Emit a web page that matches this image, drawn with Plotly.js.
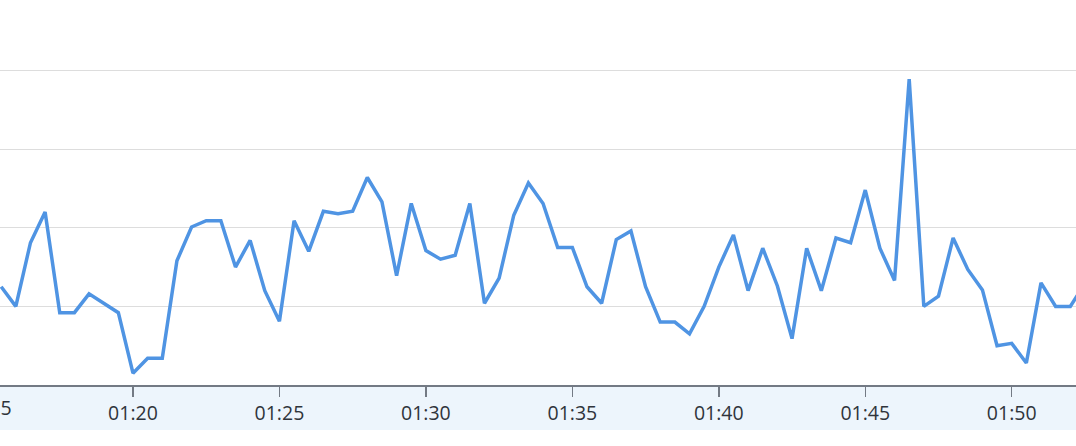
<!DOCTYPE html>
<html>
<head>
<meta charset="utf-8">
<script src="https://cdn.plot.ly/plotly-3.0.1.min.js"></script>
<style>
html,body{margin:0;padding:0;background:#fff;}
#chart{width:1076px;height:446px;}
</style>
</head>
<body>
<div id="chart"></div>
<script>
var day = "2024-01-01 ";
var times = [
"01:15:30","01:16:00","01:16:30","01:17:00","01:17:30","01:18:00","01:18:30","01:19:00","01:19:30",
"01:20:00","01:20:30","01:21:00","01:21:30","01:22:00","01:22:30","01:23:00","01:23:30","01:24:00","01:24:30",
"01:25:00","01:25:30","01:26:00","01:26:30","01:27:00","01:27:30","01:28:00","01:28:30","01:29:00","01:29:30",
"01:30:00","01:30:30","01:31:00","01:31:30","01:32:00","01:32:30","01:33:00","01:33:30","01:34:00","01:34:30",
"01:35:00","01:35:30","01:36:00","01:36:30","01:37:00","01:37:30","01:38:00","01:38:30","01:39:00","01:39:30",
"01:40:00","01:40:30","01:41:00","01:41:30","01:42:00","01:42:30","01:43:00","01:43:30","01:44:00","01:44:30",
"01:45:00","01:45:30","01:46:00","01:46:30","01:47:00","01:47:30","01:48:00","01:48:30","01:49:00","01:49:30",
"01:50:00","01:50:30","01:51:00","01:51:30","01:52:00","01:52:30"
];
var values = [
12.5,10.0,18.1,22.0,9.2,9.2,11.6,10.4,9.2,
1.5,3.4,3.4,15.8,20.1,20.9,20.9,15.0,18.4,12.0,
8.1,20.9,17.0,22.1,21.8,22.1,26.4,23.3,13.9,23.1,
17.1,16.0,16.5,23.1,10.4,13.6,21.6,25.7,23.1,17.5,
17.5,12.5,10.4,18.5,19.6,12.5,8.0,8.0,6.5,10.0,
15.0,19.1,12.0,17.4,12.6,5.9,17.4,12.0,18.7,18.1,
24.8,17.4,13.3,38.9,10.0,11.3,18.7,14.7,12.1,5.0,
5.3,2.8,13.0,10.0,10.0,12.9
];
var xRange = ["01:15:27.6", "01:52:11.7"];
var gridVals = [10, 20, 30, 40];
var cutLabel = "01:15";

var x = times.map(function(t){ return day + t; });
var t0 = new Date("2024-01-01T" + xRange[0]).getTime();
var t1 = new Date("2024-01-01T" + xRange[1]).getTime();
var tc = new Date("2024-01-01T" + cutLabel + ":00").getTime();
var cutPaperX = (tc - t0) / (t1 - t0);

var tickFont = {family: "Open Sans", size: 19.5, color: "#2f343b"};

Plotly.newPlot("chart", [{
  x: x, y: values, type: "scatter", mode: "lines",
  line: {color: "#4f94e3", width: 3.5},
  hoverinfo: "skip", showlegend: false
}], {
  width: 1076, height: 446,
  margin: {l: 0, r: 0, t: 0, b: 61, pad: 0},
  paper_bgcolor: "#ffffff", plot_bgcolor: "#ffffff",
  xaxis: {
    type: "date",
    range: [day + xRange[0], day + xRange[1]],
    tick0: day + "01:00:00", dtick: 300000,
    tickformat: "%H:%M",
    showgrid: false, zeroline: false,
    showline: true, linecolor: "#737a84", linewidth: 1.5,
    ticks: "outside", ticklen: 10, tickwidth: 1.5, tickcolor: "#737a84",
    tickfont: tickFont,
    fixedrange: true
  },
  yaxis: {
    range: [0, 48.98],
    tickvals: gridVals,
    showticklabels: false,
    showgrid: true, gridcolor: "#dddddd", gridwidth: 1,
    zeroline: false, showline: false, ticks: "",
    fixedrange: true
  },
  annotations: [{
    text: cutLabel, xref: "paper", yref: "paper",
    x: cutPaperX, y: -23/385, xanchor: "center", yanchor: "middle",
    showarrow: false, font: tickFont
  }],
  shapes: [{
    type: "rect", xref: "paper", yref: "paper",
    x0: 0, x1: 1, y0: -45/385, y1: 0,
    fillcolor: "#edf5fc", line: {width: 0}, layer: "below"
  }]
}, {displayModeBar: false, staticPlot: true});
</script>
</body>
</html>
